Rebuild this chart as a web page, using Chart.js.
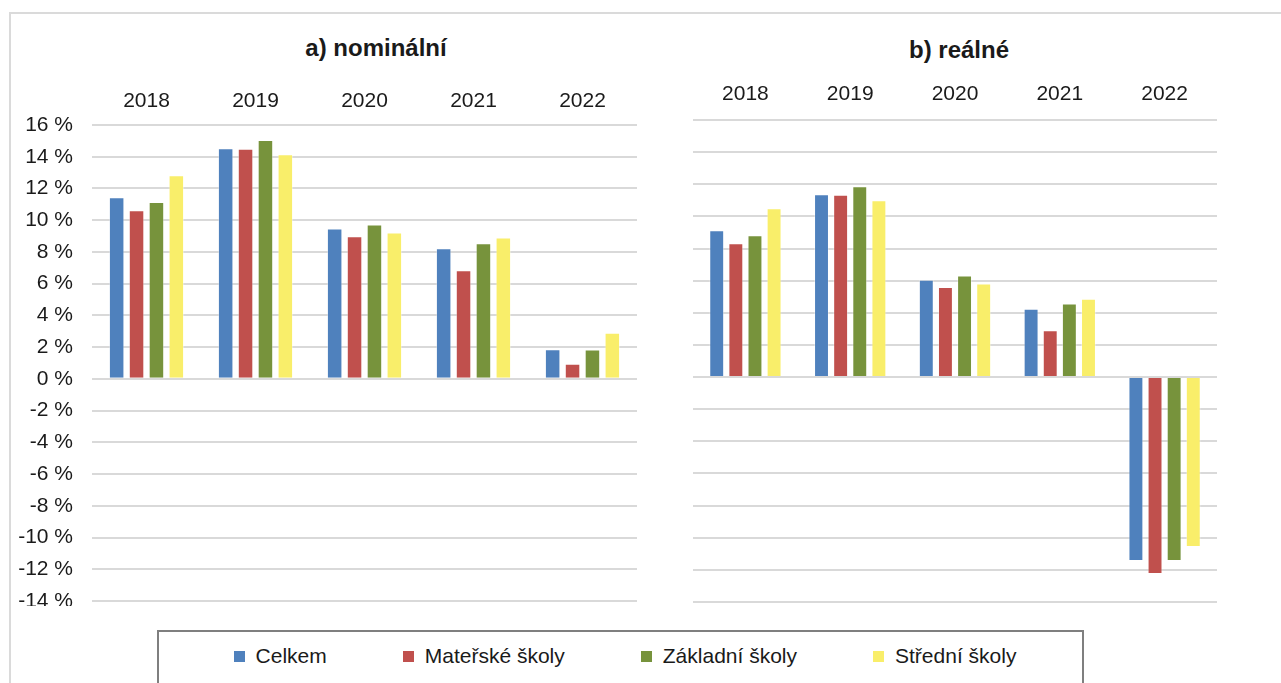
<!DOCTYPE html>
<html>
<head>
<meta charset="utf-8">
<script src="https://cdn.jsdelivr.net/npm/chart.js@4/dist/chart.umd.min.js"></script>
<style>
  body { margin: 0; background: #fff; font-family: "Liberation Sans", Arial, sans-serif; }
  #wrap { position: relative; width: 1281px; height: 683px; overflow: hidden; }
  #frame { position: absolute; left: 9px; top: 12px; width: 1300px; height: 700px; border: 2px solid #dadada; }
  .title { position: absolute; font-weight: bold; font-size: 24px; color: #1a1a1a; transform: translate(-50%, -50%); white-space: nowrap; }
  #leftBox { position: absolute; left: 0; top: 0; width: 645px; height: 606px; }
  #rightBox { position: absolute; left: 683px; top: 0; width: 545px; height: 607px; }
  #legend { position: absolute; left: 157px; top: 630px; width: 927px; height: 80px; border: 2px solid #7f7f7f;
            display: flex; justify-content: center; align-items: flex-start; padding-left: 9px; box-sizing: border-box; }
  .item { display: flex; align-items: center; margin: 0 38px; font-size: 21px; color: #1a1a1a; margin-top: 12px; }
  .sw { width: 11px; height: 11px; margin-right: 11px; }
</style>
</head>
<body>
<div id="wrap">
  <div id="frame"></div>
  <div class="title" style="left:376px; top:48px;">a) nominální</div>
  <div class="title" style="left:959px; top:50px;">b) reálné</div>
  <div id="leftBox"><canvas id="leftChart"></canvas></div>
  <div id="rightBox"><canvas id="rightChart"></canvas></div>
  <div id="legend"></div>
</div>
<script>
var years = ["2018", "2019", "2020", "2021", "2022"];
var seriesNames = ["Celkem", "Mateřské školy", "Základní školy", "Střední školy"];
var seriesColors = ["#4f81bd", "#c0504d", "#77933c", "#f9ee6a"];

// a) nominální
var nomCelkem = [11.45, 14.53, 9.47, 8.23, 1.87];
var nomMaterske = [10.63, 14.51, 8.99, 6.84, 0.95];
var nomZakladni = [11.14, 15.05, 9.73, 8.55, 1.85];
var nomStredni = [12.84, 14.15, 9.22, 8.91, 2.91];

// b) reálné
var realCelkem = [9.14, 11.38, 6.05, 4.25, -11.45];
var realMaterske = [8.33, 11.34, 5.60, 2.92, -12.26];
var realZakladni = [8.83, 11.88, 6.32, 4.58, -11.45];
var realStredni = [10.51, 11.00, 5.82, 4.87, -10.58];

var yMin = -14, yMax = 16, yStep = 2;

var font = {family: "'Liberation Sans', Arial, sans-serif", size: 21};

function makeDatasets(lists){
    return lists.map(function(values, i){
        return {
            label: seriesNames[i],
            data: values,
            backgroundColor: seriesColors[i],
            borderColor: "rgba(255,255,255,0.35)",
            borderWidth: 1,
            categoryPercentage: 0.73,
            barPercentage: 0.78
        };
    });
}

function makeChart(id, lists, showY, yWidth, xHeight, xPad, pad){
    return new Chart(document.getElementById(id), {
        type: "bar",
        data: {labels: years, datasets: makeDatasets(lists)},
        options: {
            responsive: true,
            maintainAspectRatio: false,
            animation: false,
            layout: {padding: pad},
            plugins: {legend: {display: false}, tooltip: {enabled: false}},
            scales: {
                x: {
                    position: "top",
                    grid: {display: false, drawTicks: false},
                    border: {display: false},
                    ticks: {font: font, color: "#1a1a1a", padding: xPad, maxRotation: 0},
                    afterFit: function(scale){
                        scale.height = xHeight;
                        scale.paddingLeft = 0; scale.paddingRight = 0;
                    }
                },
                y: {
                    min: yMin, max: yMax,
                    grid: {color: "#d9d9d9", lineWidth: 2, drawTicks: false},
                    border: {display: false},
                    ticks: {
                        display: showY,
                        stepSize: yStep,
                        font: font, color: "#1a1a1a", padding: 19,
                        callback: function(v){ return v + " %"; }
                    },
                    afterFit: function(scale){
                        scale.width = yWidth;
                        scale.paddingTop = 0; scale.paddingBottom = 0;
                    }
                }
            }
        }
    });
}

makeChart("leftChart", [nomCelkem, nomMaterske, nomZakladni, nomStredni], true, 92, 45, 11,
    {top: 80, left: 0, right: 8, bottom: 5});
makeChart("rightChart", [realCelkem, realMaterske, realZakladni, realStredni], false, 0, 45, 13,
    {top: 75, left: 10, right: 11, bottom: 5});

var legend = document.getElementById("legend");
seriesNames.forEach(function(name, i){
    var item = document.createElement("div");
    item.className = "item";
    var sw = document.createElement("span");
    sw.className = "sw";
    sw.style.background = seriesColors[i];
    var txt = document.createElement("span");
    txt.textContent = name;
    item.appendChild(sw);
    item.appendChild(txt);
    legend.appendChild(item);
});
</script>
</body>
</html>
